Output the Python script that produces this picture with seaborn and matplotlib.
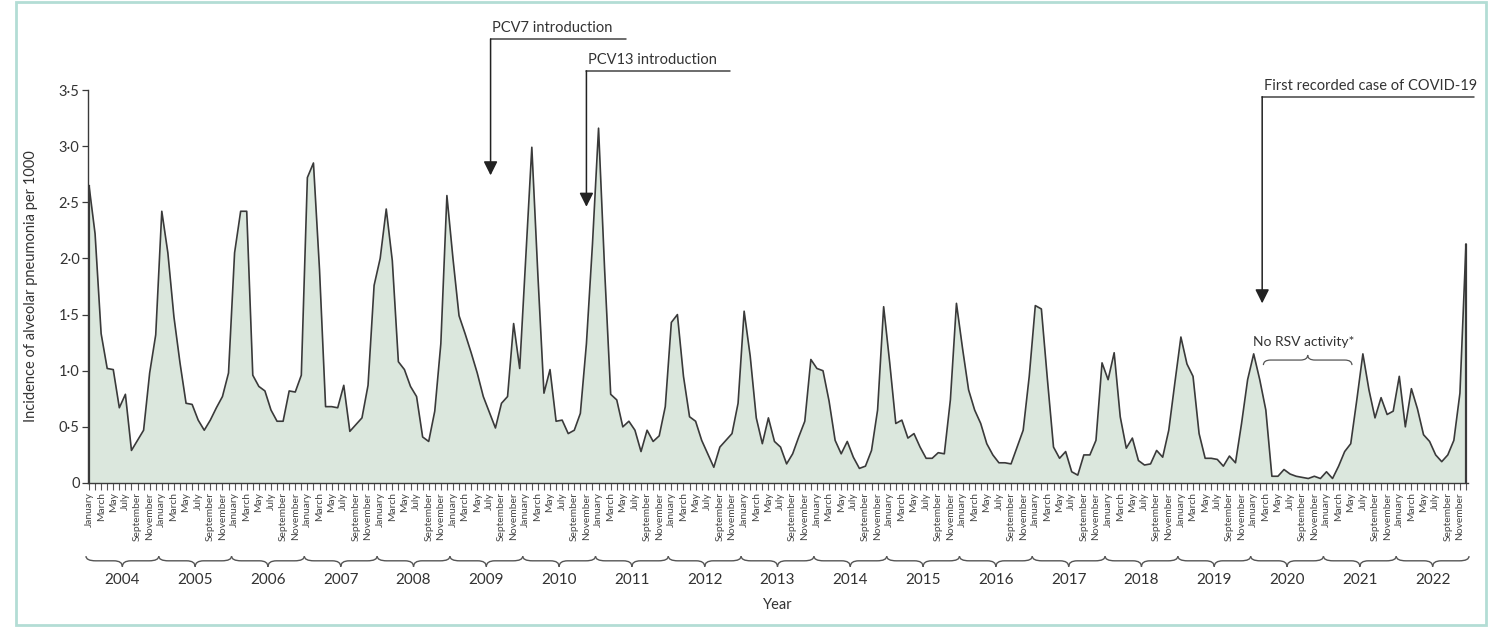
import numpy as np
import pandas as pd
import matplotlib
matplotlib.use("Agg")
import matplotlib.pyplot as plt
import matplotlib.transforms as mtransforms
from matplotlib.path import Path
from matplotlib.patches import PathPatch, Rectangle
import seaborn as sns

# ---------------- data ----------------
years = list(range(2004, 2023))
month_names = ["January", "February", "March", "April", "May", "June", "July",
               "August", "September", "October", "November", "December"]
labelled_months = ["January", "March", "May", "July", "September", "November"]

incidence = [
    2.65, 2.22, 1.33, 1.02, 1.01, 0.67, 0.79, 0.29, 0.38, 0.47, 0.98, 1.32,  # 2004
    2.42, 2.05, 1.48, 1.07, 0.71, 0.70, 0.56, 0.47, 0.56, 0.67, 0.77, 0.98,  # 2005
    2.05, 2.42, 2.42, 0.96, 0.86, 0.82, 0.65, 0.55, 0.55, 0.82, 0.81, 0.96,  # 2006
    2.72, 2.85, 1.90, 0.68, 0.68, 0.67, 0.87, 0.46, 0.52, 0.58, 0.87, 1.76,  # 2007
    2.00, 2.44, 1.98, 1.08, 1.01, 0.86, 0.77, 0.41, 0.37, 0.64, 1.24, 2.56,  # 2008
    2.00, 1.49, 1.33, 1.16, 0.98, 0.77, 0.63, 0.49, 0.71, 0.77, 1.42, 1.02,  # 2009
    2.00, 2.99, 1.85, 0.80, 1.01, 0.55, 0.56, 0.44, 0.47, 0.62, 1.24, 2.13,  # 2010
    3.16, 1.90, 0.79, 0.74, 0.50, 0.55, 0.47, 0.28, 0.47, 0.37, 0.42, 0.68,  # 2011
    1.43, 1.50, 0.95, 0.59, 0.55, 0.38, 0.26, 0.14, 0.32, 0.38, 0.44, 0.71,  # 2012
    1.53, 1.13, 0.58, 0.35, 0.58, 0.37, 0.32, 0.17, 0.26, 0.41, 0.55, 1.10,  # 2013
    1.02, 1.00, 0.73, 0.38, 0.26, 0.37, 0.23, 0.13, 0.15, 0.29, 0.65, 1.57,  # 2014
    1.07, 0.53, 0.56, 0.40, 0.44, 0.32, 0.22, 0.22, 0.27, 0.26, 0.74, 1.60,  # 2015
    1.20, 0.83, 0.65, 0.53, 0.35, 0.25, 0.18, 0.18, 0.17, 0.32, 0.47, 0.95,  # 2016
    1.58, 1.55, 0.92, 0.32, 0.22, 0.28, 0.10, 0.07, 0.25, 0.25, 0.38, 1.07,  # 2017
    0.92, 1.16, 0.59, 0.31, 0.40, 0.20, 0.16, 0.17, 0.29, 0.23, 0.47, 0.89,  # 2018
    1.30, 1.06, 0.95, 0.44, 0.22, 0.22, 0.21, 0.15, 0.24, 0.18, 0.53, 0.92,  # 2019
    1.15, 0.92, 0.65, 0.06, 0.06, 0.12, 0.08, 0.06, 0.05, 0.04, 0.06, 0.04,  # 2020
    0.10, 0.04, 0.15, 0.28, 0.35, 0.74, 1.15, 0.83, 0.58, 0.76, 0.61, 0.64,  # 2021
    0.95, 0.50, 0.84, 0.66, 0.43, 0.37, 0.25, 0.19, 0.25, 0.38, 0.80, 2.13,  # 2022
]

y_ticks = [0, 0.5, 1.0, 1.5, 2.0, 2.5, 3.0, 3.5]
y_tick_labels = ["0", "0·5", "1·0", "1·5", "2·0", "2·5", "3·0", "3·5"]

event_labels = ["PCV7 introduction", "PCV13 introduction", "First recorded case of COVID-19"]
event_months = [66.2, 82.0, 193.4]
no_rsv_label = "No RSV activity*"
no_rsv_span = [193.6, 208.2]

# ---------------- frame ----------------
df = pd.DataFrame({
    "month_index": np.arange(len(incidence)),
    "month": [month_names[k % 12] for k in range(len(incidence))],
    "incidence": incidence,
})

sns.set_theme(style="ticks")
plt.rcParams["font.family"] = ["Lato", "DejaVu Sans"]

LINE = "#3a3a3a"
FILL = "#dbe7dd"
TXT = "#333333"

W, H = 1489, 627
fig = plt.figure(figsize=(W / 100, H / 100), dpi=100)
fig.patch.set_facecolor("white")
ax = fig.add_axes([88 / W, 1 - 483 / H, 1380 / W, 393 / H])
ax.set_facecolor("white")

ax.fill_between(df["month_index"], 0, df["incidence"], color=FILL, linewidth=0, zorder=1)
sns.lineplot(data=df, x="month_index", y="incidence", ax=ax, color=LINE,
             linewidth=1.2, zorder=3)
ax.vlines([df["month_index"].iloc[0], df["month_index"].iloc[-1]], 0,
          [df["incidence"].iloc[0], df["incidence"].iloc[-1]],
          color=LINE, linewidth=1.6, zorder=3)

ax.set_xlim(-0.165, 227.33)
ax.set_ylim(0, 3.5)

# spines
for s in ["top", "right"]:
    ax.spines[s].set_visible(False)
ax.spines["left"].set_color(LINE)
ax.spines["bottom"].set_color(LINE)
ax.spines["left"].set_linewidth(1.0)
ax.spines["bottom"].set_linewidth(1.0)

# y ticks
ax.set_yticks(y_ticks)
ax.set_yticklabels(y_tick_labels, fontsize=10.5, color=TXT)
ax.tick_params(axis="y", length=4, width=0.9, color=LINE, pad=2)

# x ticks: every month, labels for alternate months
ax.set_xticks(df["month_index"])
ax.set_xticklabels([m if m in labelled_months else "" for m in df["month"]],
                   rotation=90, fontsize=7.4, color="#444444")
ax.tick_params(axis="x", length=5, width=0.8, color="#555555", pad=1.5)

ax.set_xlabel("")
ax.set_ylabel("Incidence of alveolar pneumonia per 1000", fontsize=10.5, color=TXT)
ax.yaxis.set_label_coords(-0.036, 0.5)


def brace(x0, x1, y_edge, y_mid, y_tip, transform, d_edge, d_mid, lw=1.0):
    xc = (x0 + x1) / 2
    verts = [(x0, y_edge), (x0, y_mid), (x0 + d_edge, y_mid),
             (xc - d_mid, y_mid),
             (xc, y_mid), (xc, y_tip),
             (xc, y_mid), (xc + d_mid, y_mid),
             (x1 - d_edge, y_mid),
             (x1, y_mid), (x1, y_edge)]
    codes = [Path.MOVETO, Path.CURVE3, Path.CURVE3,
             Path.LINETO,
             Path.CURVE3, Path.CURVE3,
             Path.CURVE3, Path.CURVE3,
             Path.LINETO,
             Path.CURVE3, Path.CURVE3]
    p = PathPatch(Path(verts, codes), facecolor="none", edgecolor="#555555",
                  linewidth=lw, transform=transform, clip_on=False)
    ax.add_patch(p)


blend = mtransforms.blended_transform_factory(ax.transData, ax.transAxes)
for k, yr in enumerate(years):
    x0 = k * 12 - 0.5
    x1 = k * 12 + 11.5
    brace(x0, x1, -0.186, -0.198, -0.213, blend, 1.6, 1.4)
    ax.text((x0 + x1) / 2, -0.248, str(yr), transform=blend, ha="center",
            va="center", fontsize=11, color=TXT)

ax.text(0.5, -0.31, "Year", transform=ax.transAxes, ha="center", va="center",
        fontsize=10.5, color=TXT)

# event annotations
arrow_tips = [2.74, 2.46, 1.60]
arrow_tops = [3.955, 3.67, 3.44]
line_ends = [88.5, 105.6, 228.4]
for lab, xm, tip, top, xe in zip(event_labels, event_months, arrow_tips, arrow_tops, line_ends):
    ax.plot([xm, xe], [top, top], color="#444444", linewidth=1.1, clip_on=False, zorder=4)
    ax.annotate("", xy=(xm, tip), xytext=(xm, top),
                arrowprops=dict(arrowstyle="-|>,head_length=0.7,head_width=0.35",
                                color="#222222", lw=1.1, shrinkA=0, shrinkB=0),
                annotation_clip=False, zorder=4)
    ax.text(xm + 0.3, top + 0.035, lab, ha="left", va="bottom", fontsize=10.5,
            color=TXT, clip_on=False)

# No RSV activity brace (pointing up)
brace(no_rsv_span[0], no_rsv_span[1], 1.05, 1.095, 1.14, ax.transData, 1.2, 1.2, lw=0.9)
ax.text(sum(no_rsv_span) / 2 - 0.6, 1.20, no_rsv_label, ha="center", va="bottom",
        fontsize=10, color=TXT)

# figure border
fig.patches.append(Rectangle((16 / W, 2 / H), (1486 - 16) / W, (625 - 2) / H,
                             transform=fig.transFigure, fill=False,
                             edgecolor="#b3ddd5", linewidth=2.0))

fig.savefig("out.png", dpi=100)
